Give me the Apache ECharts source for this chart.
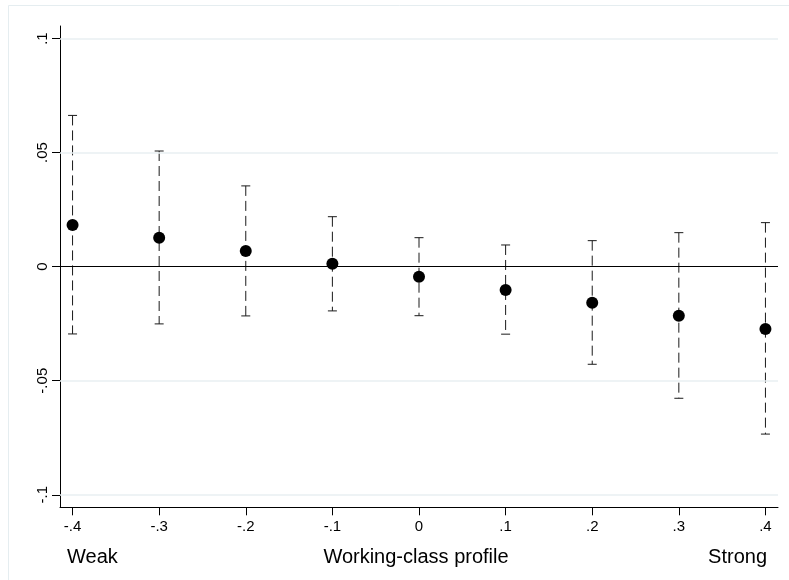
<!DOCTYPE html>
<html>
<head>
<meta charset="utf-8">
<script src="https://cdn.jsdelivr.net/npm/echarts@6/dist/echarts.min.js"></script>
<style>
html,body{margin:0;padding:0;background:#fff;}
#chart{width:789px;height:580px;}
</style>
</head>
<body>
<div id="chart"></div>
<script>
// Data
const xValues   = [-0.4, -0.3, -0.2, -0.1, 0, 0.1, 0.2, 0.3, 0.4];
const estimates = [0.0183, 0.0127, 0.0069, 0.0013, -0.0044, -0.0102, -0.0158, -0.0215, -0.0273];
const upper     = [0.0663, 0.0507, 0.0354, 0.0219, 0.0127, 0.0095, 0.0114, 0.0149, 0.0193];
const lower     = [-0.0295, -0.0251, -0.0216, -0.0194, -0.0215, -0.0296, -0.0428, -0.0577, -0.0734];
const xTicks    = [-0.4, -0.3, -0.2, -0.1, 0, 0.1, 0.2, 0.3, 0.4];
const yTicks    = [-0.1, -0.05, 0, 0.05, 0.1];
const yGrid     = [-0.1, -0.05, 0.05, 0.1];
const xTitle    = 'Working-class profile';
const xLeftNote = 'Weak';
const xRightNote= 'Strong';

const FONT = 'Liberation Sans';
function stataFmt(v) {
  const r = Math.round(v * 1000) / 1000;
  let s;
  if (r === 0) s = '0';
  else s = (r < 0 ? '-' : '') + String(Math.abs(r)).replace(/^0/, '');
  return '{t|' + s + '}';
}
const tickRich = {t: {fontFamily: FONT, fontSize: 15, color: '#000'}};

const chart = echarts.init(document.getElementById('chart'), null, {renderer: 'canvas'});
const barData = xValues.map((x, i) => [x, lower[i], upper[i]]);
const ptData = xValues.map((x, i) => [x, estimates[i]]);

chart.setOption({
  animation: false,
  backgroundColor: '#ffffff',
  textStyle: {fontFamily: FONT},
  grid: {left: 60, top: 26, width: 718, height: 481.3, containLabel: false},
  xAxis: {
    type: 'value', min: -0.4145, max: 0.4145,
    axisLine: {show: true, onZero: false, lineStyle: {color: '#000', width: 1}},
    axisTick: {show: true, length: 8, customValues: xTicks, lineStyle: {color: '#000', width: 1}},
    axisLabel: {show: true, customValues: xTicks, margin: 12, formatter: stataFmt,
                fontFamily: FONT, fontSize: 15, color: '#000', rich: tickRich},
    splitLine: {show: false}
  },
  yAxis: {
    type: 'value', min: -0.1055, max: 0.1055,
    axisLine: {show: true, onZero: false, lineStyle: {color: '#000', width: 1}},
    axisTick: {show: true, length: 8, customValues: yTicks, lineStyle: {color: '#000', width: 1}},
    axisLabel: {show: true, customValues: yTicks, rotate: 90, margin: 10, formatter: stataFmt,
                fontFamily: FONT, fontSize: 15, color: '#000', rich: tickRich},
    splitLine: {show: false}
  },
  graphic: [
    {type: 'rect', silent: true, z: -10,
     shape: {x: 8.5, y: 5.5, width: 800, height: 600},
     style: {fill: 'none', stroke: '#e5edf0', lineWidth: 1}},
    {type: 'text', style: {text: xLeftNote, x: 67, y: 557, textAlign: 'left', textVerticalAlign: 'middle',
      font: '20px "Liberation Sans"', fill: '#000'}},
    {type: 'text', style: {text: xTitle, x: 416, y: 557, textAlign: 'center', textVerticalAlign: 'middle',
      font: '20px "Liberation Sans"', fill: '#000'}},
    {type: 'text', style: {text: xRightNote, x: 767, y: 557, textAlign: 'right', textVerticalAlign: 'middle',
      font: '20px "Liberation Sans"', fill: '#000'}}
  ],
  series: [
    {
      type: 'line', data: [], z: 1, silent: true,
      markLine: {
        silent: true, symbol: 'none', label: {show: false}, animation: false,
        lineStyle: {color: '#e8eff2', width: 1.5, type: 'solid'},
        data: yGrid.map(v => ({yAxis: v}))
      }
    },
    {
      type: 'custom', z: 2, silent: true,
      data: barData,
      renderItem: function (params, api) {
        const x = api.value(0), lo = api.value(1), hi = api.value(2);
        const pHi = api.coord([x, hi]);
        const pLo = api.coord([x, lo]);
        const hw = 4.5;
        const st = {stroke: '#1a1a1a', lineWidth: 1};
        return {type: 'group', children: [
          {type: 'line', shape: {x1: pHi[0], y1: pHi[1], x2: pLo[0], y2: pLo[1]},
           style: {stroke: '#1a1a1a', lineWidth: 1, lineDash: [10, 5]}},
          {type: 'line', shape: {x1: pHi[0] - hw, y1: pHi[1], x2: pHi[0] + hw, y2: pHi[1]}, style: st},
          {type: 'line', shape: {x1: pLo[0] - hw, y1: pLo[1], x2: pLo[0] + hw, y2: pLo[1]}, style: st}
        ]};
      }
    },
    {
      type: 'line', data: [], z: 3, silent: true,
      markLine: {
        silent: true, symbol: 'none', label: {show: false}, animation: false,
        lineStyle: {color: '#000', width: 1.2, type: 'solid'},
        data: [{yAxis: 0}]
      }
    },
    {
      type: 'scatter', z: 4, silent: true,
      data: ptData, symbol: 'circle', symbolSize: 12,
      itemStyle: {color: '#000', opacity: 1}
    }
  ]
});
</script>
</body>
</html>
